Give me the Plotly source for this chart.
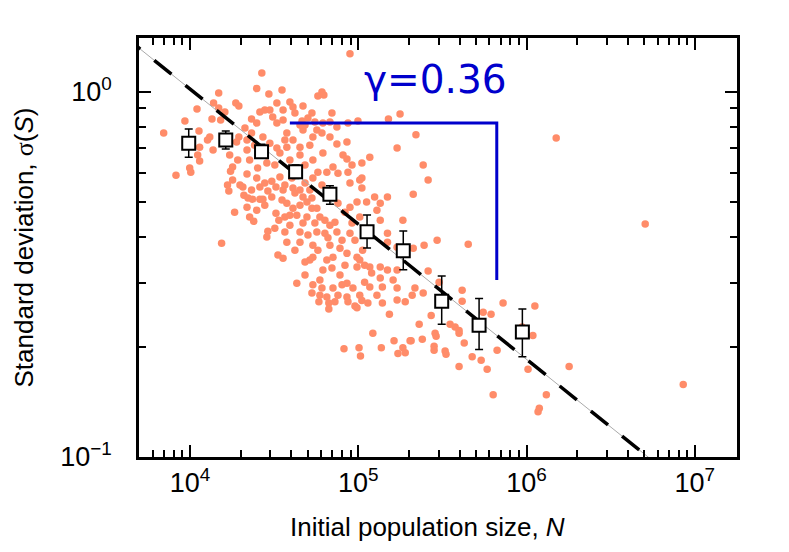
import numpy as np
import plotly.graph_objects as go

# individual populations: initial size N and standard deviation of S
pop_size = [
    26700, 24900, 29400, 14800, 18700, 19500, 11000, 13500, 13800, 14800, 16100, 15200, 9320, 6970, 11300,
    13100, 12700, 11400, 11100, 13700, 18900, 19500, 21800, 21800, 17200, 19200, 23200, 24900, 26000, 27800,
    29800, 32800, 31000, 32800, 23200, 27100, 29800, 22600, 11400, 9950, 17900, 28600, 32800,
    89200, 60800, 57500, 62400, 35200, 39200, 40900, 46900, 35700, 42000, 53000, 50200, 69700, 35700, 46300,
    46900, 48200, 61600, 67800, 74600, 86800, 99500, 151000, 177000, 56700, 53700, 60800, 67800, 37600, 40900,
    45000, 51500, 74600, 85600, 81100, 85600, 117000, 170000, 105000, 53700, 61600, 37600, 34200, 45000, 70700,
    91700,
    8250, 10100, 17400, 21800, 24900, 16700, 17900, 17000, 20600, 20900, 22100, 23500, 26000, 27100, 26000,
    29000, 27800, 30600, 32400, 30600, 21800, 24900, 18400, 22600, 23900, 32400, 33700, 29000, 28600, 15400,
    33300,
    34200, 36600, 35700, 40900, 42000, 46900, 49500, 53000, 37600, 40900, 45000, 53000, 56700, 59100, 49500,
    43100, 36600, 46900, 39200, 55200, 63300, 67800, 72600, 74600, 63300, 56700, 50200, 36600, 37600, 45000,
    53700, 66000, 80000, 89200, 91700, 102000, 83300, 89200, 75700, 98200, 105000, 105000, 89200, 75700, 86800,
    65000, 53700, 48200, 112000, 125000, 135000, 149000, 102000, 129000, 184000, 135000, 149000, 170000, 149000,
    106000, 98200, 85600, 77800, 70700, 65000, 53700, 51500, 35700, 69700, 77800, 61600, 48200, 43100, 53700,
    60800, 70700, 80000, 98200, 102000, 117000, 120000, 135000, 149000, 135000, 109000, 161000, 170000, 85600,
    92900, 117000, 139000, 170000, 59100, 53000, 65000, 75700, 85600, 102000, 129000,
    58300, 66800, 72600, 66800, 86800, 95500, 98200, 105000, 114000, 139000, 170000, 190000, 153000, 122000,
    163000, 203000, 82200, 101000, 103000, 137000, 172000, 184000, 190000,
    220000, 243000, 260000, 212000, 1500000, 5070000, 246000, 294000, 450000, 212000, 260000, 217000, 209000,
    243000, 302000, 414000, 414000, 725000, 1120000, 271000, 230000, 351000, 376000, 397000, 397000, 552000,
    615000, 1090000, 940000, 286000, 290000, 240000, 206000, 426000, 282000, 282000, 328000, 332000, 668000,
    475000, 537000, 397000, 583000, 1020000, 1790000, 633000, 1310000, 1190000, 1170000, 8530000,
    21200, 24200, 27800, 36600, 39200, 48200, 57500, 40300, 31900, 25200, 19800, 23200, 27800, 35200, 45000,
    51500, 60800, 39200, 31900, 45000, 57500, 67800, 42000, 48200, 59100, 83300, 95500, 109000, 45000, 55200,
]
pop_sd = [
    1.125, 1.02, 0.986, 0.992, 0.931, 0.914, 0.897, 0.842, 0.931, 0.902, 0.880, 0.837, 0.832, 0.771, 0.781,
    0.752, 0.737, 0.705, 0.671, 0.692, 0.728, 0.752, 0.692, 0.737, 0.671, 0.650, 0.842, 0.821, 0.880, 0.891,
    0.891, 0.931, 0.853, 0.821, 0.771, 0.752, 0.723, 0.650, 0.646, 0.618, 0.622, 0.638, 0.701,
    1.27, 0.998, 0.973, 0.980, 1.011, 0.937, 0.908, 0.914, 0.891, 0.874, 0.874, 0.847, 0.874, 0.837, 0.832,
    0.786, 0.811, 0.821, 0.826, 0.801, 0.821, 0.832, 0.842, 0.869, 0.786, 0.752, 0.771, 0.752, 0.771, 0.737,
    0.705, 0.714, 0.719, 0.728, 0.671, 0.654, 0.662, 0.701, 0.638, 0.650, 0.679, 0.705, 0.679, 0.671, 0.622,
    0.630,
    0.591, 0.602, 0.606, 0.595, 0.580, 0.555, 0.573, 0.535, 0.548, 0.521, 0.512, 0.508, 0.508, 0.508, 0.548,
    0.535, 0.562, 0.569, 0.548, 0.515, 0.483, 0.474, 0.468, 0.454, 0.442, 0.465, 0.445, 0.415, 0.400, 0.385,
    0.357,
    0.584, 0.555, 0.538, 0.545, 0.528, 0.515, 0.499, 0.512, 0.495, 0.480, 0.489, 0.480, 0.480, 0.454, 0.454,
    0.459, 0.454, 0.437, 0.431, 0.437, 0.445, 0.431, 0.439, 0.413, 0.410, 0.413, 0.405, 0.413, 0.387, 0.387,
    0.380, 0.398, 0.392, 0.410, 0.437, 0.454, 0.468, 0.483, 0.495, 0.499, 0.545, 0.580, 0.562, 0.598, 0.602,
    0.602, 0.580, 0.562, 0.499, 0.515, 0.495, 0.515, 0.573, 0.474, 0.445, 0.445, 0.410, 0.375, 0.387,
    0.368, 0.352, 0.361, 0.373, 0.352, 0.346, 0.352, 0.346, 0.350, 0.329, 0.315, 0.325, 0.315, 0.299, 0.296,
    0.290, 0.290, 0.296, 0.331, 0.346, 0.331, 0.319, 0.331, 0.325, 0.309, 0.301, 0.305, 0.325, 0.299,
    0.290, 0.292, 0.292, 0.290, 0.277, 0.281, 0.274, 0.277, 0.274, 0.277, 0.277,
    0.266, 0.264, 0.266, 0.254, 0.266, 0.259, 0.256, 0.268, 0.264, 0.264, 0.269, 0.266, 0.246, 0.218,
    0.208, 0.208, 0.198, 0.199, 0.189, 0.199, 0.192, 0.199, 0.193,
    0.762, 0.630, 0.573, 0.524, 0.747, 0.434, 0.380, 0.392, 0.382, 0.373, 0.323, 0.290, 0.277,
    0.281, 0.301, 0.286, 0.267, 0.264, 0.259, 0.244, 0.231, 0.231, 0.227, 0.222, 0.218, 0.249,
    0.246, 0.215, 0.227, 0.218, 0.214, 0.210, 0.208, 0.205, 0.201, 0.196, 0.195, 0.191, 0.196,
    0.188, 0.184, 0.177, 0.174, 0.174, 0.177, 0.148, 0.148, 0.136, 0.133, 0.158,
    0.796, 0.714, 0.671, 0.737, 0.650, 0.630, 0.602, 0.580, 0.630, 0.618, 0.555, 0.538, 0.489, 0.505, 0.538,
    0.538, 0.555, 0.459, 0.423, 0.413, 0.368, 0.380, 0.368, 0.342, 0.305, 0.335, 0.392, 0.335, 0.811, 0.826,
]

# binned averages with error bars
bin_N = [9820, 16300, 26600, 42400, 67800, 112700, 185000, 313000, 522000, 944000]
bin_sd = [0.723, 0.737, 0.685, 0.604, 0.524, 0.4135, 0.3667, 0.267, 0.2295, 0.220]
bin_err_up = [0.067, 0.043, 0.033, 0.026, 0.029, 0.046, 0.049, 0.046, 0.042, 0.034]
bin_err_down = [0.061, 0.040, 0.028, 0.025, 0.032, 0.040, 0.041, 0.036, 0.0325, 0.032]

# power-law fit  sigma = A * N^-slope
fit_amp = 30.7
fit_slope = 0.37
fit_N = np.array([4000, 2.0e7])
fit_sd = fit_amp * fit_N ** (-fit_slope)

# slope bracket
gamma_N = [39200, 665000, 665000]
gamma_sd = [0.821, 0.821, 0.305]

blue = "#0000CC"
font_main = "Liberation Sans, Arial, Helvetica, sans-serif"

fig = go.Figure()
fig.add_trace(go.Scatter(x=pop_size, y=pop_sd, mode="markers",
                         marker=dict(color="#FF8C69", size=7.5, line=dict(width=0))))
fig.add_trace(go.Scatter(x=fit_N, y=fit_sd, mode="lines",
                         line=dict(color="#aaaaaa", width=1)))
fig.add_trace(go.Scatter(x=fit_N, y=fit_sd, mode="lines",
                         line=dict(color="black", width=3.5, dash="22px,18px")))
fig.add_trace(go.Scatter(x=gamma_N, y=gamma_sd, mode="lines",
                         line=dict(color=blue, width=3)))
fig.add_trace(go.Scatter(x=bin_N, y=bin_sd, mode="markers",
                         marker=dict(symbol="square", size=13, color="white",
                                     line=dict(color="black", width=2)),
                         error_y=dict(type="data", array=bin_err_up, arrayminus=bin_err_down,
                                      color="black", thickness=1.5, width=4)))

fig.add_annotation(text="γ=0.36", x=0.495, y=0.902, xref="paper", yref="paper",
                   xanchor="center", yanchor="middle", showarrow=False,
                   font=dict(family="DejaVu Sans", size=39, color=blue))

# x axis title sits a little left of the plot centre in the original
fig.add_annotation(text="Initial population size, <i>N</i>", x=0.483, y=-0.167,
                   xref="paper", yref="paper", xanchor="center", yanchor="middle",
                   showarrow=False, font=dict(family=font_main, size=26, color="black"))

minor_x = [k * 10 ** d for d in range(3, 8) for k in range(2, 10)]
minor_y = [k / 10 for k in range(2, 10)] + [1, 2]

axis_common = dict(type="log", showgrid=False, zeroline=False, showline=True, linecolor="black",
                   linewidth=2.5, mirror="allticks", ticks="inside", ticklen=12, tickwidth=2,
                   tickcolor="black", tickfont=dict(family=font_main, size=27, color="black"))

fig.update_xaxes(**axis_common, range=[3.6966, 7.2505],
                 tickvals=[1e4, 1e5, 1e6, 1e7],
                 ticktext=["10<sup>4</sup>", "10<sup>5</sup>", "10<sup>6</sup>", "10<sup>7</sup>"],
                 ticklabelstandoff=0,
                 minor=dict(tickvals=minor_x, ticks="inside", ticklen=7, tickwidth=1.5, tickcolor="black"))
fig.update_yaxes(**axis_common, range=[-1, 0.147],
                 tickvals=[0.1, 1],
                 ticktext=["10<sup>−1</sup>", "10<sup>0</sup>"],
                 ticklabelstandoff=19,
                 minor=dict(tickvals=minor_y, ticks="inside", ticklen=7, tickwidth=1.5, tickcolor="black"),
                 title=dict(text="Standard deviation, <span style='font-family:Liberation Serif'>σ</span>(<i>S</i>)",
                            standoff=20, font=dict(family=font_main, size=26, color="black")))

# page body adds an 8px offset, so margins are shifted by that amount
fig.update_layout(width=789, height=552, showlegend=False,
                  plot_bgcolor="white", paper_bgcolor="white",
                  margin=dict(l=131, r=60, t=30, b=103))

fig.write_html("out.html")
